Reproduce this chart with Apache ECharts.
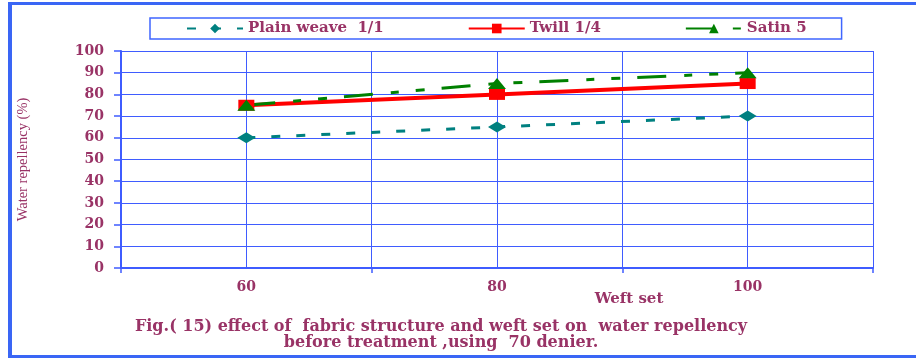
<!DOCTYPE html>
<html>
<head>
<meta charset="utf-8">
<script src="https://cdn.jsdelivr.net/npm/echarts@6/dist/echarts.min.js"></script>
<style>html,body{margin:0;padding:0;background:#fff;}#c{width:916px;height:358px;}</style>
</head>
<body>
<div id="c"></div>
<script>
const weftSet = [60, 80, 100];
const plainWeave = [60, 65, 70];
const twill = [75, 80, 85];
const satin = [75, 85, 90];
const yTicks = [0, 10, 20, 30, 40, 50, 60, 70, 80, 90, 100];
const seriesNames = ['Plain weave  1/1', 'Twill 1/4', 'Satin 5'];
const caption = 'Fig.( 15) effect of  fabric structure and weft set on  water repellency\nbefore treatment ,using  70 denier.';

const txt = '#993366';
const blue = '#3f5cff';
const frame = '#3a66f5';
const serifB = 'DejaVu Serif';

const pair = (vals) => weftSet.map((x, i) => [x, vals[i]]);

const chart = echarts.init(document.getElementById('c'), null, {renderer: 'canvas'});
chart.setOption({
  backgroundColor: '#fff',
  animation: false,
  graphic: [
    {type: 'line', shape: {x1: 10, y1: 2, x2: 10, y2: 357}, style: {stroke: frame, lineWidth: 4}},
    {type: 'line', shape: {x1: 8, y1: 3.5, x2: 916, y2: 3.5}, style: {stroke: frame, lineWidth: 3}},
    {type: 'line', shape: {x1: 8, y1: 356.5, x2: 916, y2: 356.5}, style: {stroke: frame, lineWidth: 3}}
  ],
  title: [{
    text: 'Weft set', left: 624, top: 287, textAlign: 'center',
    textStyle: {fontFamily: serifB, fontWeight: 'bold', fontSize: 15, color: txt}
  }, {
    text: caption, left: 436, top: 314, textAlign: 'center',
    textStyle: {fontFamily: serifB, fontWeight: 'bold', fontSize: 16, color: txt, lineHeight: 16}
  }],
  legend: {
    left: 150, top: 18,
    padding: [3, 35, 3, 36],
    borderColor: '#3f66ff', borderWidth: 1.5,
    itemGap: 84, itemWidth: 56, itemHeight: 12,
    textStyle: {fontFamily: serifB, fontWeight: 'bold', fontSize: 15, color: txt},
    data: seriesNames
  },
  grid: {left: 121, right: 43, top: 51, bottom: 90},
  xAxis: [{
    type: 'value', min: 50, max: 110, interval: 10,
    axisLine: {show: true, lineStyle: {color: blue, width: 2}},
    axisTick: {show: false},
    splitLine: {show: true, lineStyle: {color: blue, width: 1}},
    axisLabel: {
      margin: 12,
      formatter: (v) => weftSet.indexOf(v) >= 0 ? String(v) : '',
      fontFamily: serifB, fontWeight: 'bold', fontSize: 14, color: txt
    }
  }, {
    type: 'category', position: 'bottom', data: weftSet.map(String), boundaryGap: true,
    axisLine: {show: false}, axisLabel: {show: false}, splitLine: {show: false},
    axisTick: {show: true, length: 5, lineStyle: {color: blue, width: 1.5}}
  }],
  yAxis: {
    type: 'value', min: 0, max: 100, interval: 10,
    name: 'Water repellency (%)', nameLocation: 'middle', nameGap: 90, nameRotate: 90,
    nameTextStyle: {fontFamily: 'Liberation Serif', fontSize: 14.5, color: txt},
    axisLine: {show: true, lineStyle: {color: blue, width: 2}},
    axisTick: {show: true, length: 7, lineStyle: {color: blue, width: 1.5}},
    splitLine: {show: true, lineStyle: {color: blue, width: 1}},
    axisLabel: {
      margin: 17,
      formatter: (v) => yTicks.indexOf(v) >= 0 ? String(v) : '',
      fontFamily: serifB, fontWeight: 'bold', fontSize: 14, color: txt
    }
  },
  series: [{
    name: seriesNames[0], type: 'line', data: pair(plainWeave),
    symbol: 'diamond', symbolSize: [18, 11],
    itemStyle: {color: '#008080'},
    lineStyle: {color: '#008080', width: 3, type: [9, 16]}
  }, {
    name: seriesNames[1], type: 'line', data: pair(twill),
    symbol: 'rect', symbolSize: [16, 11],
    itemStyle: {color: '#ff0000'},
    lineStyle: {color: '#ff0000', width: 4, type: 'solid'}
  }, {
    name: seriesNames[2], type: 'line', data: pair(satin),
    symbol: 'triangle', symbolSize: [18, 11],
    itemStyle: {color: '#008000'},
    lineStyle: {color: '#008000', width: 3, type: [29, 18, 8, 17, 9, 17]}
  }]
});
</script>
</body>
</html>
